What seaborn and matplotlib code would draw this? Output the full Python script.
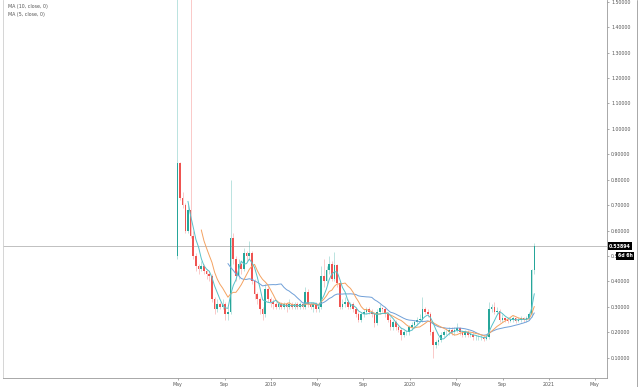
import pandas as pd
import numpy as np
import seaborn as sns
import matplotlib.pyplot as plt
import matplotlib.dates as mdates
from matplotlib.lines import Line2D

# weekly candles
start = "2018-04-30"
closes = [0.865, 0.73, 0.70, 0.60, 0.68, 0.58, 0.50, 0.46, 0.45, 0.46,
          0.44, 0.43, 0.42, 0.33, 0.29, 0.31, 0.30, 0.31, 0.27, 0.28,
          0.57, 0.49, 0.42, 0.47, 0.45, 0.51, 0.50, 0.51, 0.40, 0.35,
          0.33, 0.29, 0.27, 0.37, 0.33, 0.32, 0.31, 0.30, 0.31, 0.30,
          0.31, 0.30, 0.31, 0.30, 0.31, 0.30, 0.31, 0.30, 0.36, 0.31,
          0.30, 0.31, 0.29, 0.30, 0.42, 0.40, 0.445, 0.47, 0.41, 0.465,
          0.395, 0.30, 0.31, 0.32, 0.30, 0.31, 0.29, 0.27, 0.25, 0.27,
          0.28, 0.29, 0.28, 0.27, 0.235, 0.28, 0.295, 0.29, 0.27, 0.25,
          0.22, 0.24, 0.22, 0.21, 0.19, 0.20, 0.20, 0.22, 0.23, 0.24,
          0.25, 0.25, 0.29, 0.28, 0.27, 0.20, 0.15, 0.16, 0.17, 0.19,
          0.20, 0.20, 0.21, 0.20, 0.21, 0.215, 0.20, 0.19, 0.20, 0.19,
          0.19, 0.18, 0.18, 0.18, 0.18, 0.175, 0.18, 0.29, 0.30, 0.28,
          0.285, 0.25, 0.255, 0.25, 0.245, 0.25, 0.255, 0.245, 0.25, 0.255,
          0.25, 0.255, 0.27, 0.445, 0.53894]
highs = [1.52, 0.87, 0.75, 0.71, 0.70, 1.52, 0.60, 0.51, 0.47, 0.48,
         0.47, 0.45, 0.44, 0.43, 0.34, 0.33, 0.32, 0.33, 0.32, 0.30,
         0.80, 0.59, 0.50, 0.49, 0.48, 0.53, 0.52, 0.56, 0.52, 0.41,
         0.36, 0.34, 0.30, 0.39, 0.38, 0.34, 0.33, 0.32, 0.32, 0.32,
         0.32, 0.32, 0.33, 0.32, 0.32, 0.32, 0.32, 0.32, 0.38, 0.37,
         0.32, 0.32, 0.32, 0.31, 0.46, 0.49, 0.46, 0.50, 0.48, 0.515,
         0.47, 0.40, 0.33, 0.34, 0.33, 0.32, 0.32, 0.30, 0.28, 0.28,
         0.29, 0.30, 0.30, 0.29, 0.28, 0.29, 0.31, 0.30, 0.30, 0.28,
         0.26, 0.25, 0.25, 0.23, 0.22, 0.21, 0.21, 0.23, 0.24, 0.25,
         0.26, 0.27, 0.34, 0.30, 0.29, 0.28, 0.21, 0.17, 0.18, 0.20,
         0.21, 0.21, 0.22, 0.22, 0.22, 0.235, 0.22, 0.21, 0.21, 0.21,
         0.20, 0.20, 0.19, 0.19, 0.19, 0.19, 0.19, 0.32, 0.31, 0.32,
         0.30, 0.29, 0.27, 0.26, 0.26, 0.26, 0.265, 0.26, 0.26, 0.265,
         0.26, 0.265, 0.28, 0.45, 0.55]
lows = [0.49, 0.72, 0.69, 0.59, 0.59, 0.57, 0.49, 0.44, 0.43, 0.44,
        0.43, 0.41, 0.40, 0.32, 0.27, 0.28, 0.29, 0.29, 0.25, 0.25,
        0.27, 0.47, 0.40, 0.41, 0.43, 0.44, 0.48, 0.49, 0.39, 0.33,
        0.31, 0.27, 0.25, 0.26, 0.32, 0.30, 0.29, 0.29, 0.29, 0.29,
        0.29, 0.28, 0.29, 0.29, 0.29, 0.29, 0.29, 0.29, 0.29, 0.30,
        0.29, 0.28, 0.28, 0.28, 0.29, 0.38, 0.39, 0.43, 0.40, 0.40,
        0.38, 0.29, 0.29, 0.30, 0.29, 0.29, 0.28, 0.26, 0.24, 0.24,
        0.26, 0.27, 0.27, 0.26, 0.22, 0.23, 0.27, 0.28, 0.26, 0.24,
        0.21, 0.21, 0.21, 0.20, 0.17, 0.18, 0.19, 0.19, 0.21, 0.22,
        0.23, 0.24, 0.24, 0.27, 0.26, 0.19, 0.10, 0.14, 0.15, 0.16,
        0.18, 0.19, 0.19, 0.19, 0.19, 0.20, 0.19, 0.18, 0.18, 0.18,
        0.18, 0.17, 0.17, 0.17, 0.17, 0.165, 0.17, 0.175, 0.28, 0.27,
        0.27, 0.24, 0.24, 0.24, 0.235, 0.24, 0.24, 0.235, 0.24, 0.24,
        0.24, 0.24, 0.25, 0.26, 0.43]
first_open = 0.50

y_ticks = [0.1, 0.2, 0.3, 0.4, 0.5, 0.6, 0.7, 0.8, 0.9, 1.0, 1.1, 1.2, 1.3, 1.4, 1.5]
x_ticks = ["2018-05-01", "2018-09-01", "2019-01-01", "2019-05-01", "2019-09-01",
           "2020-01-01", "2020-05-01", "2020-09-01", "2021-01-01", "2021-05-01"]
x_labels = ["May", "Sep", "2019", "May", "Sep", "2020", "May", "Sep", "2021", "May"]
ma_labels = ["MA (20, close, 0)", "MA (10, close, 0)", "MA (5, close, 0)"]

df = pd.DataFrame({"date": pd.date_range(start, periods=len(closes), freq="7D"),
                   "close": closes, "high": highs, "low": lows})
df["open"] = [first_open] + closes[:-1]
df["ma5"] = df["close"].rolling(5).mean()
df["ma10"] = df["close"].rolling(10).mean()
df["ma20"] = df["close"].rolling(20).mean()
df["x"] = mdates.date2num(df["date"])

sns.set_style("white")
plt.rcParams['font.family'] = ['DejaVu Sans']

up_col = "#26a69a"
down_col = "#ef5350"
grey = "#555555"

fig = plt.figure(figsize=(6.4, 3.87), dpi=100)
ax = fig.add_axes([3 / 640, 9 / 387, 604 / 640, 378 / 387])

cols = [up_col if c >= o else down_col for o, c in zip(df["open"], df["close"])]
ax.vlines(df["x"], df["low"], df["high"], colors=cols, linewidth=0.4, alpha=0.55, zorder=2)
body = (df["close"] - df["open"]).abs().clip(lower=0.003)
ax.bar(df["x"], body, bottom=df[["open", "close"]].min(axis=1), width=4.2,
       color=cols, linewidth=0, zorder=3)

sns.lineplot(data=df, x="x", y="ma20", color="#6f9fd8", linewidth=0.7, ax=ax, zorder=4)
sns.lineplot(data=df, x="x", y="ma10", color="#f4a261", linewidth=0.7, ax=ax, zorder=4)
sns.lineplot(data=df, x="x", y="ma5", color="#56c1c9", linewidth=0.7, ax=ax, zorder=4)

ax.axhline(closes[-1], color="#b5b5b5", linewidth=0.6, zorder=1)

ax.set_xlim(mdates.date2num(pd.Timestamp("2017-01-27")), mdates.date2num(pd.Timestamp("2021-06-02")))
ax.set_ylim(0.0202, 1.5067)
ax.set_xlabel("")
ax.set_ylabel("")

ax.yaxis.tick_right()
ax.set_yticks(y_ticks)
ax.set_yticklabels([f"{v:.5f}" for v in y_ticks])
ax.set_xticks(mdates.date2num(pd.to_datetime(x_ticks)))
ax.set_xticklabels(x_labels)
ax.tick_params(axis="both", labelsize=3.4, colors="#888888", labelcolor=grey,
               length=1.5, width=0.5, pad=1.5, direction="out")
ax.tick_params(axis="y", left=False, right=True)
ax.tick_params(axis="x", bottom=True)

ax.spines["top"].set_visible(False)
for side in ["left", "right", "bottom"]:
    ax.spines[side].set_color("#9a9a9a")
    ax.spines[side].set_linewidth(0.6)
ax.spines["left"].set_color("#cfcfcf")

# legend text in the top left corner
for k, lab in enumerate(ma_labels):
    ax.text(5 / 604, 1.006 - k * 8.5 / 378, lab, transform=ax.transAxes,
            fontsize=3.4, color=grey, va="center", ha="left")

# last price tag and countdown
yt = ax.get_yaxis_transform()
ax.text(1.003, closes[-1], "0.53894", transform=yt, fontsize=3.4, color="white",
        va="center", ha="left", fontweight="bold",
        bbox=dict(boxstyle="square,pad=0.25", fc="black", ec="none"), clip_on=False, zorder=6)
ax.text(1.018, 0.50, "6d 6h", transform=yt, fontsize=3.4, color="white",
        va="center", ha="left", fontweight="bold",
        bbox=dict(boxstyle="square,pad=0.35", fc="black", ec="none"), clip_on=False, zorder=6)

fig.add_artist(Line2D([637 / 640, 637 / 640], [0, 1], color="#9a9a9a", linewidth=0.6))

fig.savefig("out.png", dpi=100)
